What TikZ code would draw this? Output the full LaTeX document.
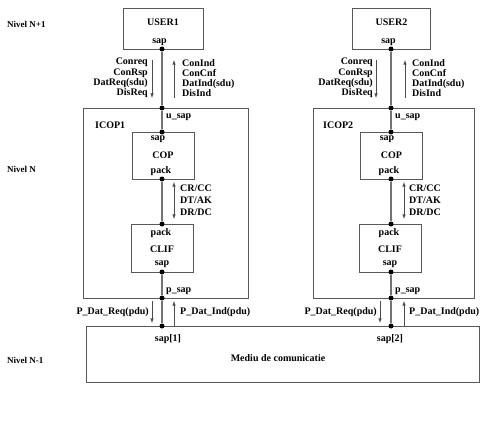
\documentclass[tikz,border=0pt]{standalone}
\usepackage{fontspec}
\setmainfont{Liberation Serif}
\usetikzlibrary{arrows}

\begin{document}
\begin{tikzpicture}[x=1pt,y=-1pt,font=\fontsize{10}{10.2}\selectfont\bfseries]
  \tikzstyle{Box}=[draw=black!65,line width=0.6pt,inner sep=0pt,minimum width=62pt,minimum height=47pt]
  \tikzstyle{Dot}=[circle,fill=black,inner sep=0pt,minimum size=5pt]
  \tikzstyle{Link}=[draw=black!55,line width=1.1pt]
  \tikzstyle{Prim}=[draw=black!70,line width=0.6pt,-latex]
  \tikzstyle{Txt}=[inner sep=0pt,anchor=base]
  \tikzstyle{Lvl}=[inner sep=0pt,anchor=base west,font=\fontsize{9}{10}\selectfont\bfseries]

  \useasboundingbox (0,0) rectangle (490,428);

  % levels
  \node[Lvl] (lvlA) at (7,28)  {Nivel N+1};
  \node[Lvl] (lvlB) at (7,172) {Nivel N};
  \node[Lvl] (lvlC) at (7,363) {Nivel N-1};

  % boxes
  \node[Box,minimum width=80pt,minimum height=41pt] (user1) at (163,28.5) {};
  \node[Box,minimum width=78pt,minimum height=41pt] (user2) at (391.5,28.5) {};
  \node[Box,minimum width=165pt,minimum height=190pt] (icop1) at (165.5,203) {};
  \node[Box,minimum width=161pt,minimum height=190pt] (icop2) at (393.5,203) {};
  \node[Box] (cop1) at (163,155.5) {};
  \node[Box] (cop2) at (391.5,155.5) {};
  \node[Box,minimum height=48pt] (clif1) at (162,248) {};
  \node[Box,minimum height=48pt] (clif2) at (390.5,248) {};
  \node[Box,minimum width=393pt,minimum height=56pt] (medium) at (282.5,354) {};

  % access points
  \node[Dot] (us1) at (162,49) {};
  \node[Dot] (ua1) at (162,108) {};
  \node[Dot] (cs1) at (162,132) {};
  \node[Dot] (cp1) at (162,179) {};
  \node[Dot] (lp1) at (162,224) {};
  \node[Dot] (ls1) at (162,272) {};
  \node[Dot] (pa1) at (162,298) {};
  \node[Dot] (ms1) at (162,326) {};
  \node[Dot] (us2) at (391,49) {};
  \node[Dot] (ua2) at (391,108) {};
  \node[Dot] (cs2) at (391,132) {};
  \node[Dot] (cp2) at (391,179) {};
  \node[Dot] (lp2) at (391,224) {};
  \node[Dot] (ls2) at (391,272) {};
  \node[Dot] (pa2) at (391,298) {};
  \node[Dot] (ms2) at (391,326) {};

  \draw[Link] (us1) -- (ua1) -- (cs1);
  \draw[Link] (cp1) -- (lp1);
  \draw[Link] (ls1) -- (pa1) -- (ms1);
  \draw[Link] (us2) -- (ua2) -- (cs2);
  \draw[Link] (cp2) -- (lp2);
  \draw[Link] (ls2) -- (pa2) -- (ms2);

  % texts in boxes
  \node[Txt] (t-user1) at (163,25.5) {USER1};
  \node[Txt] (t-us1) at (159.5,43.5) {sap};
  \node[Txt] (t-user2) at (391.5,25.5) {USER2};
  \node[Txt] (t-us2) at (388.5,43.5) {sap};
  \node[Txt,anchor=base west] (t-icop1) at (95,128) {ICOP1};
  \node[Txt,anchor=base west] (t-icop2) at (323,128) {ICOP2};
  \node[Txt,anchor=base west] (t-ua1) at (166,118) {u\_sap};
  \node[Txt,anchor=base west] (t-ua2) at (395,118) {u\_sap};
  \node[Txt] (t-cs1) at (158,140.5) {sap};
  \node[Txt] (t-cop1) at (163,158.5) {COP};
  \node[Txt] (t-cp1) at (161,173.5) {pack};
  \node[Txt] (t-cs2) at (387,140.5) {sap};
  \node[Txt] (t-cop2) at (391.5,158.5) {COP};
  \node[Txt] (t-cp2) at (389,173.5) {pack};
  \node[Txt] (t-lp1) at (161,235.5) {pack};
  \node[Txt] (t-clif1) at (162,252) {CLIF};
  \node[Txt] (t-ls1) at (162,265.5) {sap};
  \node[Txt] (t-lp2) at (389,235.5) {pack};
  \node[Txt] (t-clif2) at (390,252) {CLIF};
  \node[Txt] (t-ls2) at (390,265.5) {sap};
  \node[Txt,anchor=base west] (t-pa1) at (166,292.5) {p\_sap};
  \node[Txt,anchor=base west] (t-pa2) at (395,292.5) {p\_sap};
  \node[Txt] (t-ms1) at (168,341.5) {sap[1]};
  \node[Txt] (t-ms2) at (390,341.5) {sap[2]};
  \node[Txt] (t-medium) at (278,361) {Mediu de comunicatie};

  % primitives N+1 / N
  \coordinate (rq1a) at (152,60);  \coordinate (rq1b) at (152,98);
  \coordinate (in1a) at (174,98);  \coordinate (in1b) at (174,60);
  \coordinate (rq2a) at (376,60);  \coordinate (rq2b) at (376,98);
  \coordinate (in2a) at (405,98);  \coordinate (in2b) at (405,60);
  \draw[Prim] (rq1a) -- (rq1b);
  \draw[Prim] (in1a) -- (in1b);
  \draw[Prim] (rq2a) -- (rq2b);
  \draw[Prim] (in2a) -- (in2b);
  \node[Txt,anchor=east,align=right] (req1) at (148,78) {Conreq\\ConRsp\\DatReq(sdu)\\DisReq};
  \node[Txt,anchor=west,align=left] (ind1) at (182,78) {ConInd\\ConCnf\\DatInd(sdu)\\DisInd};
  \node[Txt,anchor=east,align=right] (req2) at (373,78) {Conreq\\ConRsp\\DatReq(sdu)\\DisReq};
  \node[Txt,anchor=west,align=left] (ind2) at (412,78) {ConInd\\ConCnf\\DatInd(sdu)\\DisInd};

  % peer protocol
  \coordinate (pp1a) at (174,182); \coordinate (pp1b) at (174,219);
  \coordinate (pp2a) at (404,182); \coordinate (pp2b) at (404,219);
  \draw[Prim,latex-latex] (pp1a) -- (pp1b);
  \draw[Prim,latex-latex] (pp2a) -- (pp2b);
  \node[Txt,anchor=west,align=left,font=\fontsize{10}{12}\selectfont\bfseries] (pdu1) at (180,200.5) {CR/CC\\DT/AK\\DR/DC};
  \node[Txt,anchor=west,align=left,font=\fontsize{10}{12}\selectfont\bfseries] (pdu2) at (409,200.5) {CR/CC\\DT/AK\\DR/DC};

  % primitives N / N-1
  \coordinate (pr1a) at (152,301); \coordinate (pr1b) at (152,323);
  \coordinate (pi1a) at (174,326); \coordinate (pi1b) at (174,301);
  \coordinate (pr2a) at (380,301); \coordinate (pr2b) at (380,323);
  \coordinate (pi2a) at (404,326); \coordinate (pi2b) at (404,301);
  \draw[Prim] (pr1a) -- (pr1b);
  \draw[Prim] (pi1a) -- (pi1b);
  \draw[Prim] (pr2a) -- (pr2b);
  \draw[Prim] (pi2a) -- (pi2b);
  \node[Txt,anchor=base east] (preq1) at (149,314) {P\_Dat\_Req(pdu)};
  \node[Txt,anchor=base west] (pind1) at (180,314) {P\_Dat\_Ind(pdu)};
  \node[Txt,anchor=base east] (preq2) at (377,314) {P\_Dat\_Req(pdu)};
  \node[Txt,anchor=base west] (pind2) at (409,314) {P\_Dat\_Ind(pdu)};
\end{tikzpicture}
\end{document}
